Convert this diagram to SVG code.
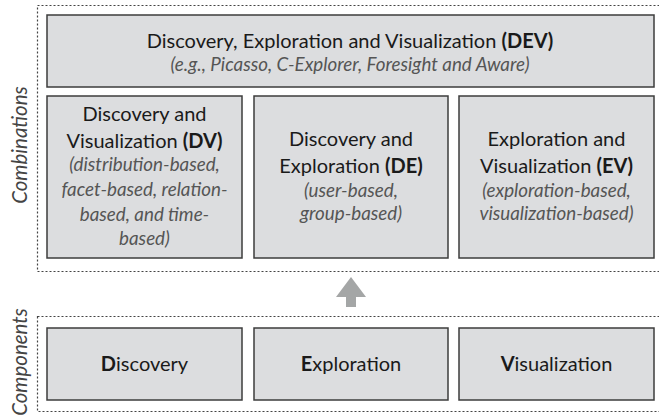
<svg xmlns="http://www.w3.org/2000/svg" width="659" height="416" viewBox="0 0 659 416">
<style>
.frame{fill:none;stroke:#444;stroke-width:1.2;stroke-dasharray:2 2}
.box{fill:#dcdddf;stroke:#3c3c3c;stroke-width:1.5}
.t{font-family:Lato,"Open Sans",sans-serif;font-size:20px;fill:#1a1a1a;text-anchor:middle}
.i{font-family:Lato,"Open Sans",sans-serif;font-size:18.8px;font-style:italic;fill:#555;text-anchor:middle}
.side{font-family:Lato,"Open Sans",sans-serif;font-size:20.5px;font-style:italic;fill:#444;text-anchor:middle}
.b{font-weight:bold}
</style>
<rect class="frame" x="37.5" y="5.5" width="630" height="266"/>
<rect class="frame" x="37.5" y="316.5" width="630" height="95"/>
<text class="side" transform="translate(27 145) rotate(-90)">Combinations</text>
<text class="side" transform="translate(27 362) rotate(-90)">Components</text>
<g id="dev">
<rect class="box" x="47" y="15" width="607" height="72"/>
<text class="t" x="350" y="48">Discovery, Exploration and Visualization <tspan class="b">(DEV)</tspan></text>
<text class="i" x="350" y="71">(e.g., Picasso, C-Explorer, Foresight and Aware)</text>
</g>
<g id="dv">
<rect class="box" x="47" y="96" width="195" height="162"/>
<text class="t" x="144.5" y="121">Discovery and</text>
<text class="t" x="144.5" y="148">Visualization <tspan class="b">(DV)</tspan></text>
<text class="i" x="144.5" y="171">(distribution-based,</text>
<text class="i" x="144.5" y="196">facet-based, relation-</text>
<text class="i" x="144.5" y="221">based, and time-</text>
<text class="i" x="144.5" y="245">based)</text>
</g>
<g id="de">
<rect class="box" x="254" y="96" width="194" height="162"/>
<text class="t" x="351" y="146">Discovery and</text>
<text class="t" x="351" y="173">Exploration <tspan class="b">(DE)</tspan></text>
<text class="i" x="351" y="197">(user-based,</text>
<text class="i" x="351" y="220">group-based)</text>
</g>
<g id="ev">
<rect class="box" x="459" y="96" width="195" height="162"/>
<text class="t" x="556.5" y="146">Exploration and</text>
<text class="t" x="556.5" y="173">Visualization <tspan class="b">(EV)</tspan></text>
<text class="i" x="556.5" y="197">(exploration-based,</text>
<text class="i" x="556.5" y="220">visualization-based)</text>
</g>
<g id="connectors">
<polygon points="351,277 366,297 356,297 356,307 346,307 346,297 336,297" fill="#a4a6a6"/>
</g>
<g id="discovery">
<rect class="box" x="47" y="328" width="195" height="72"/>
<text class="t" x="144.5" y="371"><tspan class="b">D</tspan>iscovery</text>
</g>
<g id="exploration">
<rect class="box" x="254" y="328" width="194" height="72"/>
<text class="t" x="351" y="371"><tspan class="b">E</tspan>xploration</text>
</g>
<g id="visualization">
<rect class="box" x="459" y="328" width="195" height="72"/>
<text class="t" x="556.5" y="371"><tspan class="b">V</tspan>isualization</text>
</g>
</svg>
